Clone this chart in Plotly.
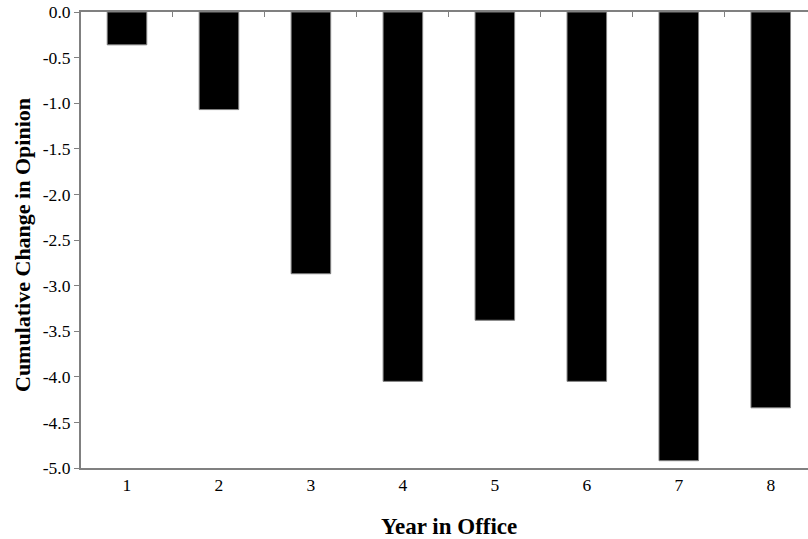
import plotly.graph_objects as go

years = [1, 2, 3, 4, 5, 6, 7, 8]
change = [-0.36, -1.07, -2.87, -4.05, -3.38, -4.05, -4.92, -4.34]
yticks = [0, -0.5, -1.0, -1.5, -2.0, -2.5, -3.0, -3.5, -4.0, -4.5, -5.0]
ytick_text = ["0.0", "-0.5", "-1.0", "-1.5", "-2.0", "-2.5", "-3.0", "-3.5", "-4.0", "-4.5", "-5.0"]
boundaries = [1.5, 2.5, 3.5, 4.5, 5.5, 6.5, 7.5]

serif = "Liberation Serif, Times New Roman, serif"
grey = "#808080"

fig = go.Figure()
fig.add_trace(go.Bar(
    x=years, y=change, width=0.43,
    marker=dict(color="black", line=dict(color=grey, width=1)),
    hoverinfo="x+y",
))
# invisible trace on top axis for zero line with inner ticks
fig.add_trace(go.Scatter(x=[years[0]], y=[0], xaxis="x2", mode="markers",
                         marker=dict(opacity=0), hoverinfo="skip", showlegend=False))

xr = [0.5, 8.405]
fig.update_layout(
    width=808, height=539,
    margin=dict(l=81, r=0, t=12, b=71, autoexpand=False),
    paper_bgcolor="white", plot_bgcolor="white",
    showlegend=False,
    font=dict(family=serif, color="black", size=17),
    xaxis=dict(
        range=xr, tickvals=years, ticktext=[str(v) for v in years],
        showline=True, linecolor=grey, linewidth=2, ticks="",
        showgrid=False, zeroline=False, automargin=False,
        tickfont=dict(family=serif, size=17.5),
    ),
    xaxis2=dict(
        range=xr, overlaying="x", side="top", anchor="y",
        tickvals=boundaries, showticklabels=False,
        showline=True, linecolor=grey, linewidth=2,
        ticks="inside", ticklen=5, tickcolor=grey, tickwidth=1,
        showgrid=False, zeroline=False, automargin=False,
    ),
    yaxis=dict(
        range=[-5.0, 0.0], tickvals=yticks, ticktext=ytick_text,
        showline=True, linecolor=grey, linewidth=2,
        ticks="outside", ticklen=5, tickcolor=grey, tickwidth=1,
        showgrid=False, zeroline=False, automargin=False,
        tickfont=dict(family=serif, size=17.5),
    ),
    annotations=[
        dict(text="<b>Year in Office</b>", xref="paper", yref="paper",
             x=(449 - 81) / 727, y=-(526 - 468) / 456, xanchor="center", yanchor="middle",
             showarrow=False, font=dict(family=serif, size=23)),
        dict(text="<b>Cumulative Change in Opinion</b>", xref="paper", yref="paper",
             x=-(81 - 22) / 727, y=(468 - 245) / 456, xanchor="center", yanchor="middle",
             textangle=-90, showarrow=False, font=dict(family=serif, size=22)),
    ],
)

fig.write_html("out.html", config={"displayModeBar": False},
               post_script="document.body.style.margin='0';document.body.style.overflow='hidden';")
